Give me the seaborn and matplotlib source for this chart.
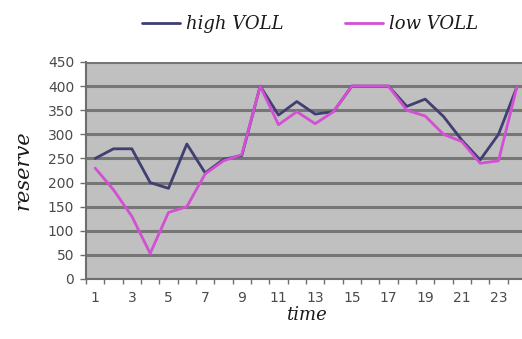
import matplotlib
matplotlib.use("Agg")
import matplotlib.pyplot as plt
import pandas as pd
import seaborn as sns
from matplotlib.ticker import FixedLocator

# Reserve per hour of the day for two values of lost load
hours = list(range(1, 25))
high_voll = [250, 270, 270, 200, 188, 280, 220, 248, 256, 400, 340, 368,
             342, 347, 400, 400, 400, 358, 373, 337, 288, 247, 300, 398]
low_voll = [230, 185, 130, 53, 138, 150, 218, 245, 258, 400, 320, 347,
            322, 347, 400, 400, 400, 350, 338, 300, 285, 240, 245, 398]
series_names = ["high VOLL", "low VOLL"]
series_colors = ["#3f3f72", "#d34fd3"]
y_ticks = list(range(0, 451, 50))
x_tick_labels = list(range(1, 24, 2))

df = pd.DataFrame({
    "time": hours * 2,
    "reserve": high_voll + low_voll,
    "series": [series_names[0]] * len(hours) + [series_names[1]] * len(hours),
})

sns.set_style("white")
plt.rcParams["font.family"] = ["DejaVu Sans"]

fig = plt.figure(figsize=(5.22, 3.39), dpi=100)
fig.patch.set_facecolor("white")
# plot area runs past the right edge of the canvas
ax = fig.add_axes([86 / 522, 60 / 339, 440 / 522, 217 / 339])
ax.set_facecolor("#c0c0c0")

sns.lineplot(data=df, x="time", y="reserve", hue="series",
             palette=dict(zip(series_names, series_colors)),
             linewidth=2.0, ax=ax, zorder=3)

ax.set_xlim(0.5, 24.5)
ax.set_ylim(0, 450)

# horizontal grid lines
ax.set_yticks(y_ticks)
ax.yaxis.grid(True, color="#767676", linewidth=2.2, zorder=1)
ax.xaxis.grid(False)
ax.set_axisbelow(True)

# category labels on odd hours, tick marks between categories
ax.xaxis.set_major_locator(FixedLocator(x_tick_labels))
ax.set_xticklabels([str(v) for v in x_tick_labels])
ax.xaxis.set_minor_locator(FixedLocator([h + 0.5 for h in range(0, 25)]))
ax.tick_params(axis="x", which="major", length=0, pad=9,
               labelsize=10, labelcolor="#4a4a4a")
ax.tick_params(axis="x", which="minor", length=3.5, width=1.0,
               color="#6e6e6e", direction="out", bottom=True)
ax.tick_params(axis="y", which="major", length=4.5, width=1.0,
               color="#6e6e6e", direction="out", left=True, pad=4,
               labelsize=10, labelcolor="#4a4a4a")

for side in ["top", "right"]:
    ax.spines[side].set_visible(False)
for side in ["left", "bottom"]:
    ax.spines[side].set_color("#6e6e6e")
    ax.spines[side].set_linewidth(1.5)

label_font = dict(family="DejaVu Serif", style="italic", color="#1a1a1a")
ax.set_xlabel("time", fontsize=13, labelpad=0, **label_font)
ax.set_ylabel("reserve", fontsize=15, labelpad=11, **label_font)

sns.move_legend(ax, "center", bbox_to_anchor=(0.509, 1.175), ncol=2,
                frameon=False, title=None, handlelength=2.1,
                handletextpad=0.35, columnspacing=3.4,
                prop=dict(family="DejaVu Serif", style="italic", size=13))
for txt in ax.get_legend().get_texts():
    txt.set_color("#1a1a1a")

fig.savefig("out.png", dpi=100, facecolor="white")
